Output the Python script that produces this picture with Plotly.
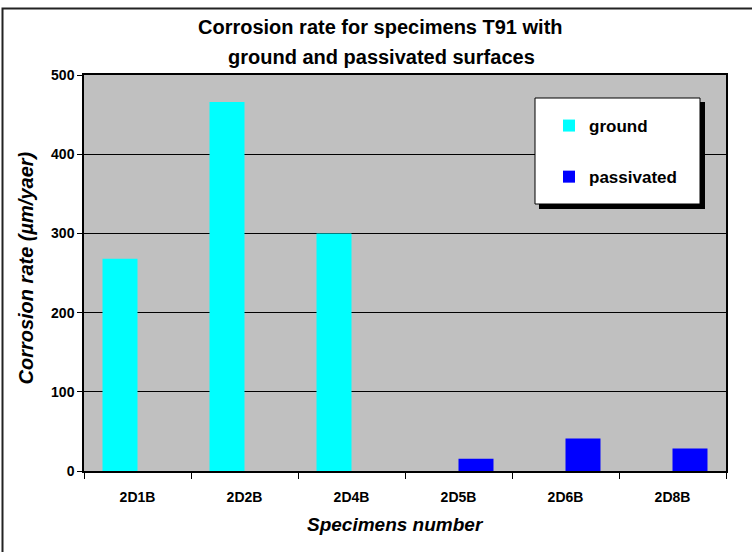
import plotly.graph_objects as go

categories = ["2D1B", "2D2B", "2D4B", "2D5B", "2D6B", "2D8B"]
ground = [268, 466, 300, None, None, None]
passivated = [None, None, None, 15.5, 41, 28.5]
y_ticks = [0, 100, 200, 300, 400, 500]

W, H = 752, 552
L, R, T, B = 84, 26, 75, 81
PW, PH = W - L - R, H - T - B

def px(x):
    return (x - L) / PW

def py(y):
    return (H - B - y) / PH

FONT = "Arial, Liberation Sans, sans-serif"

fig = go.Figure()
fig.add_trace(go.Bar(x=categories, y=ground, name="ground", marker=dict(color="#00FFFF", line=dict(width=0)),
                     legendgroup="g1"))
fig.add_trace(go.Bar(x=categories, y=passivated, name="passivated", marker=dict(color="#0000FF", line=dict(width=0)),
                     legendgroup="g2"))

shapes = [
    # outer frame
    dict(type="rect", xref="paper", yref="paper", x0=px(2.5), x1=px(W + 10), y0=py(H + 10), y1=py(8.5),
         line=dict(color="#222222", width=2), fillcolor="rgba(0,0,0,0)", layer="above"),
    # legend shadow
    dict(type="rect", xref="paper", yref="paper", x0=px(539), x1=px(705), y0=py(209), y1=py(102),
         line=dict(width=0), fillcolor="black", layer="above"),
    # legend box
    dict(type="rect", xref="paper", yref="paper", x0=px(535), x1=px(700), y0=py(204), y1=py(98),
         line=dict(color="black", width=1), fillcolor="white", layer="above"),
]

annotations = [
    dict(text="Corrosion rate for specimens T91 with", x=px(380), y=py(26.5), xref="paper", yref="paper",
         showarrow=False, xanchor="center", yanchor="middle",
         font=dict(family=FONT, size=20, color="black", weight="bold")),
    dict(text="ground and passivated surfaces", x=px(381), y=py(56.5), xref="paper", yref="paper",
         showarrow=False, xanchor="center", yanchor="middle",
         font=dict(family=FONT, size=20, color="black", weight="bold")),
    dict(text="Corrosion rate (µm/yaer)", x=px(25), y=py(268.5), xref="paper", yref="paper",
         showarrow=False, xanchor="center", yanchor="middle", textangle=-90,
         font=dict(family=FONT, size=20, color="black", weight="bold", style="italic")),
    dict(text="Specimens number", x=px(395.5), y=py(524), xref="paper", yref="paper",
         showarrow=False, xanchor="center", yanchor="middle",
         font=dict(family=FONT, size=19, color="black", weight="bold", style="italic")),
]

fig.update_layout(
    width=W, height=H,
    margin=dict(l=L, r=R, t=T, b=B, pad=0),
    paper_bgcolor="white",
    plot_bgcolor="#C0C0C0",
    barmode="group",
    bargap=0.346,
    bargroupgap=0,
    showlegend=True,
    legend=dict(x=px(549), y=py(108), xanchor="left", yanchor="top",
                bgcolor="rgba(0,0,0,0)", borderwidth=0,
                traceorder="grouped", tracegroupgap=26,
                font=dict(family=FONT, size=17, color="black", weight="bold")),
    shapes=shapes,
    annotations=annotations,
    font=dict(family=FONT, color="black"),
)

fig.update_xaxes(
    type="category", showline=True, linecolor="black", linewidth=1.5, mirror=True,
    ticks="outside", ticklen=6, tickcolor="black", tickwidth=1, tickson="boundaries",
    showgrid=False, ticklabelstandoff=12,
    tickfont=dict(family=FONT, size=14, color="black", weight="bold"),
)
fig.update_yaxes(
    range=[0, 500], tickvals=y_ticks, showline=True, linecolor="black", linewidth=1.5, mirror=True,
    ticks="outside", ticklen=5, tickcolor="black", tickwidth=1,
    showgrid=True, gridcolor="black", gridwidth=1, zeroline=False,
    tickfont=dict(family=FONT, size=14, color="black", weight="bold"),
)

fig.write_html(
    "out.html",
    config={"displayModeBar": False},
    post_script="document.body.style.margin='0';document.body.style.overflow='hidden';",
)
